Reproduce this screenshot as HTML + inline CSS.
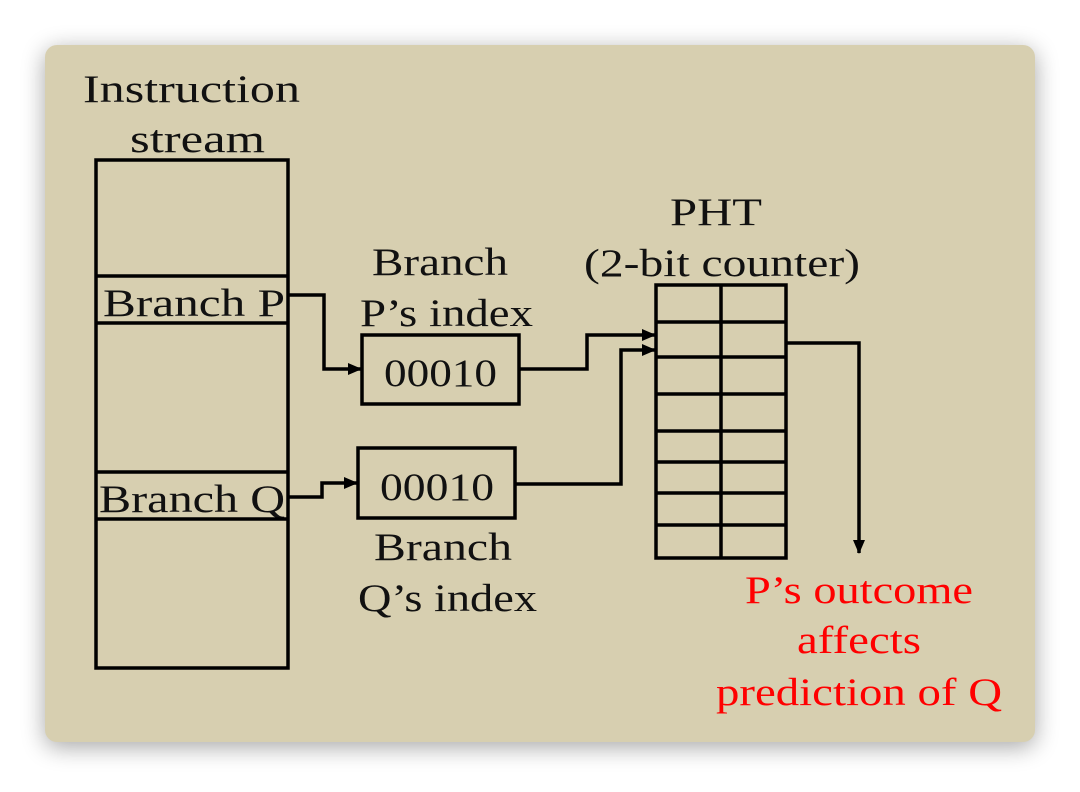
<!DOCTYPE html>
<html><head><style>
html,body{margin:0;padding:0;background:#fff;}
body{width:1080px;height:787px;overflow:hidden;}
</style></head><body>
<svg width="1080" height="787" viewBox="0 0 1080 787" xmlns="http://www.w3.org/2000/svg">
<defs>
<filter id="sh" x="-10%" y="-10%" width="120%" height="120%"><feGaussianBlur stdDeviation="12"/></filter>
<marker id="ar" markerWidth="14" markerHeight="12" refX="13" refY="6" orient="auto" markerUnits="userSpaceOnUse"><path d="M0,0 L14,6 L0,12 z" fill="#000"/></marker>
<marker id="ar2" markerWidth="14" markerHeight="14" refX="13" refY="6" orient="auto" markerUnits="userSpaceOnUse"><path d="M0,0 L14,6 L0,12 z" fill="#000"/></marker>
</defs>
<rect x="45" y="50" width="990" height="697" rx="12" fill="#000" opacity="0.35" filter="url(#sh)"/>
<rect x="45" y="45" width="990" height="697" rx="12" fill="#d7cfb0"/>
<g font-family="Liberation Serif, serif" font-size="39" fill="#111" lengthAdjust="spacingAndGlyphs">
<text x="83" y="102" textLength="217" lengthAdjust="spacingAndGlyphs">Instruction</text>
<text x="130" y="152" textLength="135" lengthAdjust="spacingAndGlyphs">stream</text>
<text x="372" y="275" textLength="136" lengthAdjust="spacingAndGlyphs">Branch</text>
<text x="360" y="326" textLength="173" lengthAdjust="spacingAndGlyphs">P’s index</text>
<text x="670" y="225" textLength="92" lengthAdjust="spacingAndGlyphs">PHT</text>
<text x="584" y="276" textLength="276" lengthAdjust="spacingAndGlyphs">(2-bit counter)</text>
<text x="384" y="386" textLength="113" lengthAdjust="spacingAndGlyphs">00010</text>
<text x="380" y="500" textLength="114" lengthAdjust="spacingAndGlyphs">00010</text>
<text x="374" y="560" textLength="138" lengthAdjust="spacingAndGlyphs">Branch</text>
<text x="358" y="611" textLength="179" lengthAdjust="spacingAndGlyphs">Q’s index</text>
<text x="103" y="316" textLength="182" lengthAdjust="spacingAndGlyphs">Branch P</text>
<text x="99" y="512" textLength="186" lengthAdjust="spacingAndGlyphs">Branch Q</text>
<g fill="#f00">
<text x="745" y="603" textLength="228" lengthAdjust="spacingAndGlyphs">P’s outcome</text>
<text x="797" y="653" textLength="124" lengthAdjust="spacingAndGlyphs">affects</text>
<text x="716" y="705" textLength="286" lengthAdjust="spacingAndGlyphs">prediction of Q</text>
</g>
</g>
<g fill="none" stroke="#000" stroke-width="3.5">
<rect x="96" y="160" width="192" height="508"/>
<line x1="96" y1="276" x2="288" y2="276"/><line x1="96" y1="323" x2="288" y2="323"/>
<line x1="96" y1="472" x2="288" y2="472"/><line x1="96" y1="519" x2="288" y2="519"/>
<rect x="362" y="335" width="157" height="69"/>
<rect x="358" y="448" width="157" height="70"/>
<rect x="656" y="285" width="130" height="273"/>
<line x1="721" y1="285" x2="721" y2="558"/>
<line x1="656" y1="322" x2="786" y2="322"/><line x1="656" y1="357" x2="786" y2="357"/>
<line x1="656" y1="394" x2="786" y2="394"/><line x1="656" y1="431" x2="786" y2="431"/>
<line x1="656" y1="462" x2="786" y2="462"/><line x1="656" y1="493" x2="786" y2="493"/>
<line x1="656" y1="525" x2="786" y2="525"/>
<polyline points="288,295 324,295 324,369 361,369" marker-end="url(#ar)"/>
<polyline points="519,369 587,369 587,335 655,335" marker-end="url(#ar)"/>
<polyline points="288,497 322,497 322,483 357,483" marker-end="url(#ar)"/>
<polyline points="515,484 621,484 621,350 655,350" marker-end="url(#ar)"/>
<polyline points="787,343 859,343 859,553" marker-end="url(#ar2)"/>
</g>
</svg>
</body></html>
